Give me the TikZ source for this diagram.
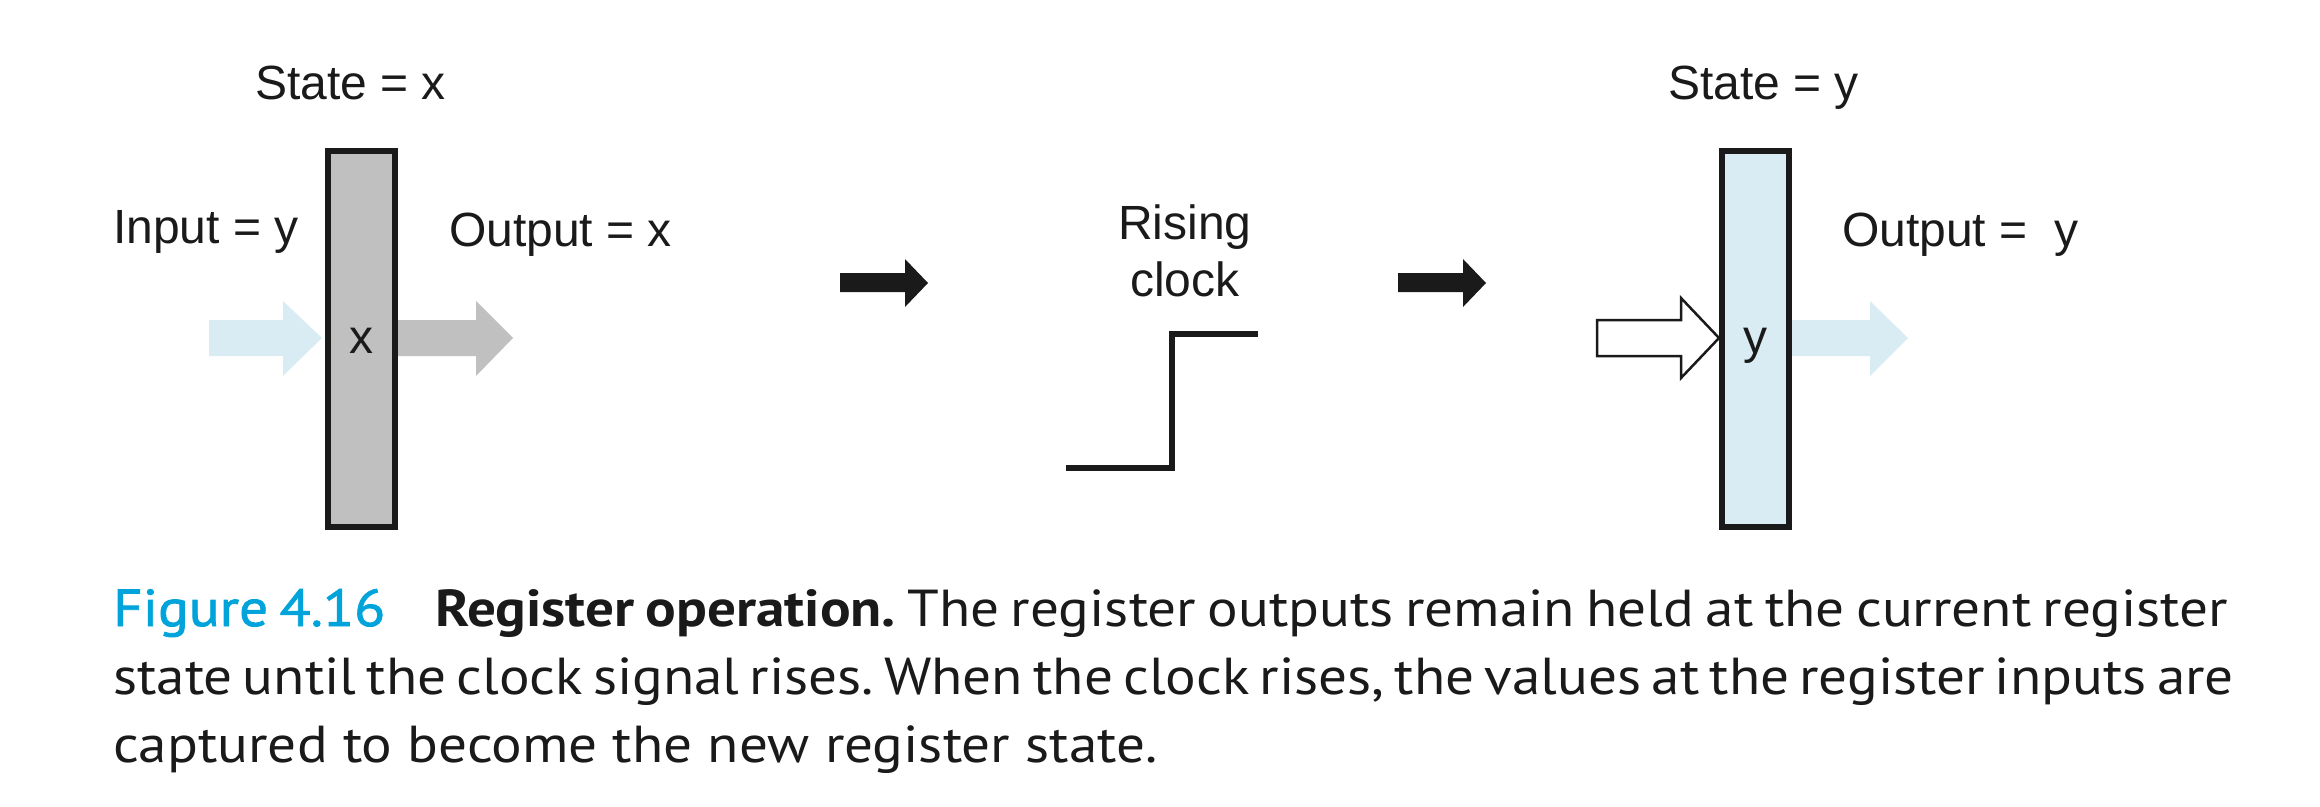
\documentclass[tikz,border=0pt]{standalone}
\usepackage{fontspec}
\setmainfont{Liberation Sans}
\newfontfamily\capfont[FakeStretch=1.1]{PT Sans}
\newfontfamily\figfont[FakeStretch=1.1,FakeBold=1.5]{PT Sans}
\definecolor{reggray}{HTML}{C0C0C0}
\definecolor{regblue}{HTML}{D9ECF3}
\definecolor{inkblack}{HTML}{1A1A1A}
\definecolor{figcyan}{HTML}{00A3DA}
\begin{document}
\begin{tikzpicture}[x=1pt,y=-1pt,
  lbl/.style={font=\fontsize{48}{56}\selectfont, text=inkblack, inner sep=0pt, anchor=base west},
  reglbl/.style={font=\fontsize{48}{56}\selectfont, text=inkblack, inner sep=0pt, anchor=base},
  regbox/.style={draw=inkblack, line width=6pt, minimum width=67pt, minimum height=376pt, inner sep=0pt},
  caption/.style={font=\capfont\fontsize{52}{68}\selectfont\frenchspacing, text=inkblack, inner sep=0pt, anchor=base west}
]
\useasboundingbox (0,0) rectangle (2320,806);
% arrows (drawn under the registers)
\fill[regblue] (209,320) -- (283,320) -- (283,301) -- (322,338) -- (283,376) -- (283,356) -- (209,356) -- cycle;
\fill[reggray] (390,320) -- (476,320) -- (476,301) -- (513,338) -- (476,376) -- (476,356) -- (390,356) -- cycle;
\fill[regblue] (1785,320) -- (1870,320) -- (1870,301) -- (1908,338) -- (1870,376) -- (1870,356) -- (1785,356) -- cycle;
\draw[inkblack, line width=2.5pt, fill=white, line join=miter] (1597,320) -- (1681,320) -- (1681,298) -- (1719,338) -- (1681,378) -- (1681,356) -- (1597,356) -- cycle;
% registers
\node[regbox, fill=reggray] (r1) at (361,339) {};
\node[regbox, fill=regblue] (r2) at (1755,339) {};
\node[reglbl] (r1v) at (361,353) {x};
\node[reglbl] (r2v) at (1755,353) {y};
% labels
\node[lbl] (s1) at (255,99) {State = x};
\node[lbl] (in1) at (113,243) {Input = y};
\node[lbl] (out1) at (449,246) {Output = x};
\node[lbl] (s2) at (1668,99) {State = y};
\node[lbl] (out2) at (1842,246) {Output = \ y};
\node[font=\fontsize{48}{56.5}\selectfont, text=inkblack, inner sep=0pt, align=center, anchor=base] (rc) at (1185,296) {Rising\\clock};
% black transition arrows
\fill[inkblack] (840,273) -- (905,273) -- (905,259) -- (928,283) -- (905,307) -- (905,292) -- (840,292) -- cycle;
\fill[inkblack] (1398,273) -- (1463,273) -- (1463,259) -- (1486,283) -- (1463,307) -- (1463,292) -- (1398,292) -- cycle;
% clock step
\draw[inkblack, line width=5.6pt, line join=miter] (1066,468) -- (1172,468) -- (1172,334) -- (1258,334);
% caption
\node[caption] (c1) at (113,626) {\hbox to 2115pt{{\figfont\color{figcyan}Figure 4.16}\hspace{50pt}\textbf{Register operation.} The register outputs remain held at the current register}};
\node[caption] (c2) at (113,694) {\hbox to 2115pt{state until the clock signal rises. When the clock rises, the values at the register inputs are}};
\node[caption] (c3) at (113,762) {captured to become the new register state.};
\end{tikzpicture}
\end{document}
